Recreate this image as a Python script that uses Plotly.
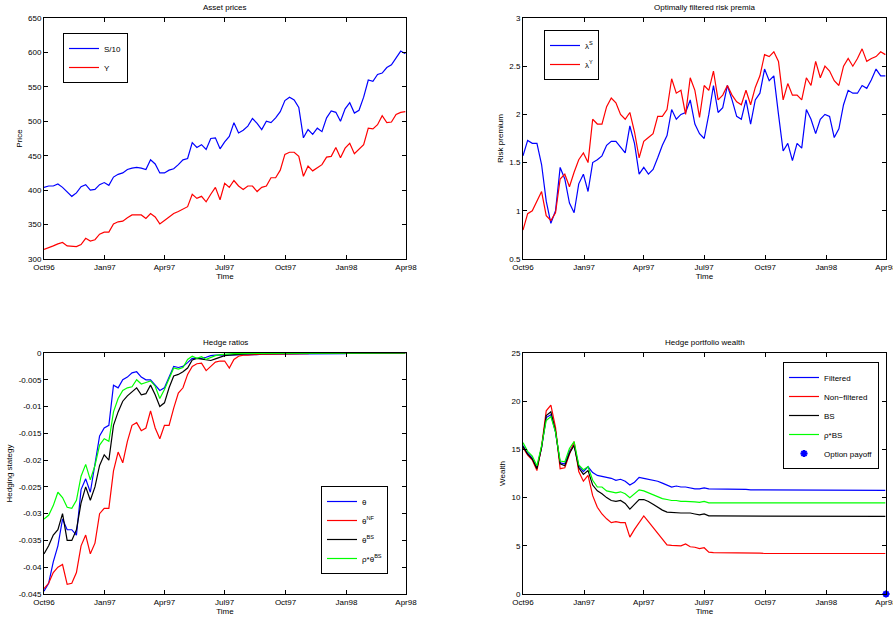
import pandas as pd
import plotly.graph_objects as go

# ---------------- data (weekly readings, Oct96 - Apr98) ----------------
start_date = "1996-10-01"
n_weeks = 79
dates = pd.date_range(start_date, periods=n_weeks, freq="7D")

s_over_10 = [404,406,406,409,404,397,391,396,405,408,
             400,401,408,411,407,419,423,425,430,432,
             433,432,430,444,438,425,425,429,431,437,
             444,446,469,462,466,459,475,476,460,470,
             478,498,483,487,493,504,497,488,500,498,
             505,514,530,535,531,520,476,488,481,490,
             485,505,515,513,500,518,527,512,516,535,
             560,558,568,570,578,582,592,602,598]
y_price = [314,316,319,322,324,319,318,318,321,330,
           326,328,336,339,339,351,354,355,360,364,
           364,364,359,366,361,351,356,361,366,369,
           373,376,394,388,391,383,394,404,386,410,
           404,414,406,401,406,406,398,404,406,418,
           418,429,452,455,455,449,420,435,428,432,
           437,448,449,462,447,461,468,453,459,466,
           490,489,495,508,498,499,510,513,514]

lambda_s = [1.57,1.73,1.70,1.70,1.48,1.10,0.87,1.00,1.45,1.33,
            1.08,0.98,1.28,1.38,1.20,1.50,1.53,1.57,1.68,1.72,
            1.72,1.66,1.60,1.88,1.70,1.38,1.45,1.38,1.43,1.55,
            1.68,1.78,2.05,1.95,2.00,2.02,2.15,1.90,1.80,1.75,
            2.00,2.30,2.02,2.07,2.30,2.15,1.98,1.95,2.15,1.90,
            2.15,2.22,2.47,2.35,2.40,2.00,1.62,1.70,1.52,1.70,
            1.65,2.05,1.95,1.80,1.95,2.00,1.98,1.76,1.85,2.10,
            2.25,2.22,2.22,2.30,2.27,2.36,2.47,2.40,2.40]
lambda_y = [0.80,0.97,1.00,1.10,1.20,0.95,0.90,0.98,1.33,1.38,
            1.25,1.40,1.53,1.60,1.50,1.95,1.90,1.90,2.08,2.17,
            2.12,2.00,1.95,2.02,1.82,1.55,1.72,1.76,1.80,1.98,
            1.98,2.05,2.37,2.22,2.25,2.00,2.38,2.25,1.97,2.30,
            2.25,2.45,2.15,2.20,2.30,2.20,2.13,2.10,2.25,2.10,
            2.28,2.40,2.62,2.60,2.65,2.55,2.15,2.32,2.20,2.20,
            2.15,2.38,2.30,2.55,2.38,2.50,2.45,2.35,2.30,2.50,
            2.58,2.50,2.58,2.68,2.55,2.58,2.60,2.65,2.62]

theta = [-0.0445,-0.043,-0.039,-0.036,-0.031,-0.033,-0.033,-0.034,-0.0255,-0.0235,
         -0.026,-0.021,-0.0155,-0.014,-0.0135,-0.006,-0.0065,-0.005,-0.0045,-0.0037,
         -0.0035,-0.0045,-0.005,-0.005,-0.006,-0.007,-0.0065,-0.0045,-0.0025,-0.0027,
         -0.0025,-0.0018,-0.001,-0.001,-0.001,-0.0008,-0.0005,-0.0004,-0.0004,-0.0003,
         -0.0003,-0.0003,-0.0003,-0.0003,-0.0003,-0.0003,-0.0003,-0.0002,-0.0002,-0.0002,
         -0.0002,-0.0002,-0.0002,-0.0002,-0.0002,-0.0002,-0.0001,-0.0001,-0.0001,-0.0001,
         -0.0001,-0.0001,-0.0001,-0.0001,-0.0001,-0.0001,0,0,0,0,
         0,0,0,0,0,0,0,0,0]
theta_nf = [-0.044,-0.043,-0.041,-0.040,-0.0395,-0.0432,-0.043,-0.041,-0.036,-0.034,
            -0.0375,-0.0355,-0.030,-0.029,-0.029,-0.022,-0.0185,-0.0205,-0.0165,-0.0135,
            -0.013,-0.0145,-0.014,-0.0108,-0.014,-0.016,-0.0135,-0.0135,-0.0103,-0.0075,
            -0.0065,-0.004,-0.0025,-0.002,-0.0019,-0.0033,-0.0025,-0.0017,-0.0015,-0.0015,
            -0.0028,-0.0012,-0.0006,-0.0004,-0.0004,-0.0003,-0.0003,-0.0002,-0.0002,-0.0002,
            -0.0001,-0.0001,-0.0001,-0.0001,-0.0001,-0.0001,-0.0001,-0.0001,0,0,
            0,0,0,0,0,0,0,0,0,0,
            0,0,0,0,0,0,0,0,0]
theta_bs = [-0.0375,-0.036,-0.034,-0.033,-0.030,-0.035,-0.035,-0.033,-0.028,-0.025,
            -0.0275,-0.025,-0.021,-0.019,-0.020,-0.0135,-0.011,-0.009,-0.008,-0.0072,
            -0.0065,-0.0078,-0.0076,-0.006,-0.0078,-0.010,-0.0093,-0.0065,-0.0043,-0.004,
            -0.0035,-0.0028,-0.0013,-0.001,-0.0011,-0.0012,-0.0014,-0.0011,-0.0008,-0.0005,
            -0.0004,-0.0003,-0.0002,-0.0002,-0.0001,-0.0001,-0.0001,-0.0001,0,0,
            0,0,0,0,0,0,0,0,0,0,
            0,0,0,0,0,0,0,0,0,0,
            0,0,0,0,0,0,0,0,0]
rho_theta_bs = [-0.031,-0.0303,-0.0285,-0.026,-0.027,-0.0288,-0.029,-0.0275,-0.023,-0.0208,
                -0.0237,-0.021,-0.0172,-0.016,-0.0165,-0.011,-0.0085,-0.007,-0.0065,-0.0063,
                -0.005,-0.0058,-0.0055,-0.0052,-0.0062,-0.0085,-0.0068,-0.0048,-0.0028,-0.003,
                -0.0027,-0.0012,-0.0006,-0.001,-0.0007,-0.0012,-0.0008,-0.0005,-0.0003,-0.0002,
                -0.0002,-0.0001,-0.0001,-0.0001,-0.0001,0,0,0,0,0,
                0,0,0,0,0,0,0,0,0,0,
                0,0,0,0,0,0,0,0,0,0,
                0,0,0,0,0,0,0,0,0]

w_filtered = [15.4,14.6,14.1,13.1,15.2,18.3,18.6,16.8,13.6,13.5,
              14.8,15.5,13.3,12.7,13.2,12.6,12.3,12.2,12.1,12.0,
              11.8,11.9,11.7,11.3,11.6,12.1,12.0,11.9,11.8,11.7,
              11.5,11.3,11.1,11.2,11.1,11.1,11.0,10.9,10.9,11.0,
              10.9,10.9,10.9,10.85,10.85,10.85,10.85,10.85,10.85,10.8,
              10.8,10.8,10.8,10.75,10.75,10.75,10.75,10.75,10.8,10.8,
              10.8,10.8,10.8,10.75,10.75,10.75,10.75,10.75,10.75,10.75,
              10.75,10.75,10.75,10.75,10.75,10.75,10.75,10.75,10.75]
w_nonfiltered = [15.2,14.4,13.9,12.8,15.3,19.0,19.6,17.3,13.0,13.1,
                 14.5,15.8,12.7,11.7,12.3,10.2,9.0,8.3,7.8,7.4,
                 7.5,7.4,7.4,5.9,6.7,7.4,8.1,7.5,6.9,6.3,
                 5.6,5.1,5.05,5.0,5.0,5.2,4.9,4.85,4.7,4.8,
                 4.35,4.3,4.3,4.25,4.25,4.25,4.25,4.25,4.25,4.25,
                 4.25,4.25,4.2,4.2,4.2,4.2,4.2,4.2,4.2,4.2,
                 4.2,4.2,4.2,4.2,4.2,4.2,4.2,4.2,4.2,4.2,
                 4.2,4.2,4.2,4.2,4.2,4.2,4.2,4.2,4.2]
w_bs = [15.3,14.5,14.0,13.0,15.2,18.5,18.9,16.9,13.5,13.3,
        14.6,15.4,13.1,12.4,12.8,11.3,10.7,10.4,10.0,9.7,
        9.6,9.7,9.4,8.8,9.3,9.8,9.8,9.6,9.3,9.0,
        8.7,8.5,8.45,8.45,8.4,8.4,8.4,8.3,8.2,8.3,
        8.1,8.1,8.1,8.1,8.1,8.1,8.1,8.1,8.1,8.1,
        8.1,8.1,8.1,8.1,8.1,8.1,8.1,8.1,8.1,8.1,
        8.05,8.05,8.05,8.05,8.05,8.05,8.05,8.05,8.05,8.05,
        8.05,8.05,8.05,8.05,8.05,8.05,8.05,8.05,8.05]
w_rho_bs = [15.7,14.8,14.3,13.3,15.4,18.0,18.4,16.8,13.8,13.7,
            15.1,15.8,13.4,12.9,13.2,11.8,11.1,11.1,10.7,10.6,
            10.5,10.6,10.4,10.0,10.4,10.8,10.7,10.5,10.3,10.1,
            9.9,9.8,9.7,9.7,9.6,9.6,9.6,9.55,9.5,9.6,
            9.45,9.45,9.45,9.45,9.45,9.45,9.45,9.45,9.45,9.45,
            9.45,9.45,9.45,9.45,9.45,9.45,9.45,9.45,9.45,9.45,
            9.45,9.45,9.45,9.45,9.45,9.45,9.45,9.45,9.45,9.45,
            9.45,9.45,9.45,9.45,9.45,9.45,9.45,9.45,9.45]
payoff_date = ["1998-04-01"]
payoff_value = [0]

x_range = ["1996-10-01", "1998-04-01"]
x_ticks = ["1996-10-01", "1997-01-01", "1997-04-01", "1997-07-01",
           "1997-10-01", "1998-01-01", "1998-04-01"]
x_ticklabels = ["Oct96", "Jan97", "Apr97", "Jul97", "Oct97", "Jan98", "Apr98"]
hedge_ticks = [0, -0.005, -0.01, -0.015, -0.02, -0.025, -0.03, -0.035, -0.04, -0.045]
hedge_ticklabels = ["0", "-0.005", "-0.01", "-0.015", "-0.02", "-0.025",
                    "-0.03", "-0.035", "-0.04", "-0.045"]

# ---------------- figure ----------------
FONT = "Liberation Sans, Arial, Helvetica, sans-serif"
BLUE, RED, BLACK, GREEN = "rgb(0,0,255)", "rgb(255,0,0)", "rgb(0,0,0)", "rgb(0,255,0)"
LW = 1.2

fig = go.Figure()

def line(x, y, name, color, xa, ya, leg):
    fig.add_trace(go.Scatter(x=x, y=y, name=name, mode="lines",
                             line=dict(color=color, width=LW),
                             xaxis=xa, yaxis=ya, legend=leg))

line(dates, s_over_10, "S/10", BLUE, "x", "y", "legend")
line(dates, y_price, "Y", RED, "x", "y", "legend")
line(dates, lambda_s, "λ<sup>S</sup>", BLUE, "x2", "y2", "legend2")
line(dates, lambda_y, "λ<sup>Y</sup>", RED, "x2", "y2", "legend2")
line(dates, theta, "θ", BLUE, "x3", "y3", "legend3")
line(dates, theta_nf, "θ<sup>NF</sup>", RED, "x3", "y3", "legend3")
line(dates, theta_bs, "θ<sup>BS</sup>", BLACK, "x3", "y3", "legend3")
line(dates, rho_theta_bs, "ρ*θ<sup>BS</sup>", GREEN, "x3", "y3", "legend3")
line(dates, w_filtered, "Filtered", BLUE, "x4", "y4", "legend4")
line(dates, w_nonfiltered, "Non−filtered", RED, "x4", "y4", "legend4")
line(dates, w_bs, "BS", BLACK, "x4", "y4", "legend4")
line(dates, w_rho_bs, "ρ*BS", GREEN, "x4", "y4", "legend4")
fig.add_trace(go.Scatter(x=payoff_date, y=payoff_value, name="Option payoff",
                         mode="markers", cliponaxis=False,
                         marker=dict(symbol="asterisk-open", size=6, color=BLUE,
                                     line=dict(color=BLUE, width=2)),
                         xaxis="x4", yaxis="y4", legend="legend4"))

W, H = 893, 619
def px_dom_x(a, b):
    return [a / W, b / W]
def px_dom_y(top, bottom):
    return [1 - bottom / H, 1 - top / H]

axis_common = dict(showline=True, linecolor="black", linewidth=1, mirror="ticks",
                   ticks="inside", ticklen=4, tickcolor="black", tickwidth=1,
                   showgrid=False, zeroline=False, automargin=False,
                   tickfont=dict(family=FONT, size=8, color="black"))

def xaxis(dom, anchor):
    return dict(axis_common, domain=dom, anchor=anchor, type="date", range=x_range,
                tickvals=x_ticks, ticktext=x_ticklabels, ticklabeloverflow="allow",
                title=dict(text="Time", font=dict(family=FONT, size=8, color="black"),
                           standoff=1))

def yaxis(dom, anchor, rng, title, **kw):
    d = dict(axis_common, domain=dom, anchor=anchor, range=rng,
             title=dict(text=title, font=dict(family=FONT, size=8, color="black"),
                        standoff=4))
    d.update(kw)
    return d

xL, xR = px_dom_x(44, 406), px_dom_x(523, 886)
yT, yB = px_dom_y(18, 259), px_dom_y(353, 594)

legend_common = dict(bgcolor="white", bordercolor="black", borderwidth=1,
                     font=dict(family=FONT, size=8, color="black"),
                     itemwidth=30, tracegroupgap=0)

fig.update_layout(
    width=W, height=H, template="none",
    margin=dict(l=0, r=0, t=0, b=0),
    paper_bgcolor="white", plot_bgcolor="white",
    font=dict(family=FONT, size=8, color="black"),
    xaxis=xaxis(xL, "y"),
    yaxis=yaxis(yT, "x", [300, 650], "Price", dtick=50, tick0=300),
    xaxis2=xaxis(xR, "y2"),
    yaxis2=yaxis(yT, "x2", [0.5, 3], "Risk premium", dtick=0.5, tick0=0.5),
    xaxis3=xaxis(xL, "y3"),
    yaxis3=yaxis(yB, "x3", [-0.045, 0], "Hedging stategy",
                 tickvals=hedge_ticks, ticktext=hedge_ticklabels),
    xaxis4=xaxis(xR, "y4"),
    yaxis4=yaxis(yB, "x4", [0, 25], "Wealth", dtick=5, tick0=0),
    legend=dict(legend_common, x=63 / W, y=1 - 33 / H, xanchor="left", yanchor="top"),
    legend2=dict(legend_common, x=544 / W, y=1 - 30 / H, xanchor="left", yanchor="top"),
    legend3=dict(legend_common, x=388 / W, y=1 - 574 / H, xanchor="right", yanchor="bottom"),
    legend4=dict(legend_common, x=879 / W, y=1 - 362 / H, xanchor="right", yanchor="top"),
    showlegend=True,
)

titles = [("Asset prices", xL, yT), ("Optimally filtered risk premia", xR, yT),
          ("Hedge ratios", xL, yB), ("Hedge portfolio wealth", xR, yB)]
for text, dx, dy in titles:
    fig.add_annotation(text=text, xref="paper", yref="paper",
                       x=(dx[0] + dx[1]) / 2, y=dy[1] + 10.5 / H,
                       xanchor="center", yanchor="middle", showarrow=False,
                       font=dict(family=FONT, size=8, color="black"))

fig.write_html("out.html", config={"displayModeBar": False},
               post_script="document.body.style.margin='0px';")
